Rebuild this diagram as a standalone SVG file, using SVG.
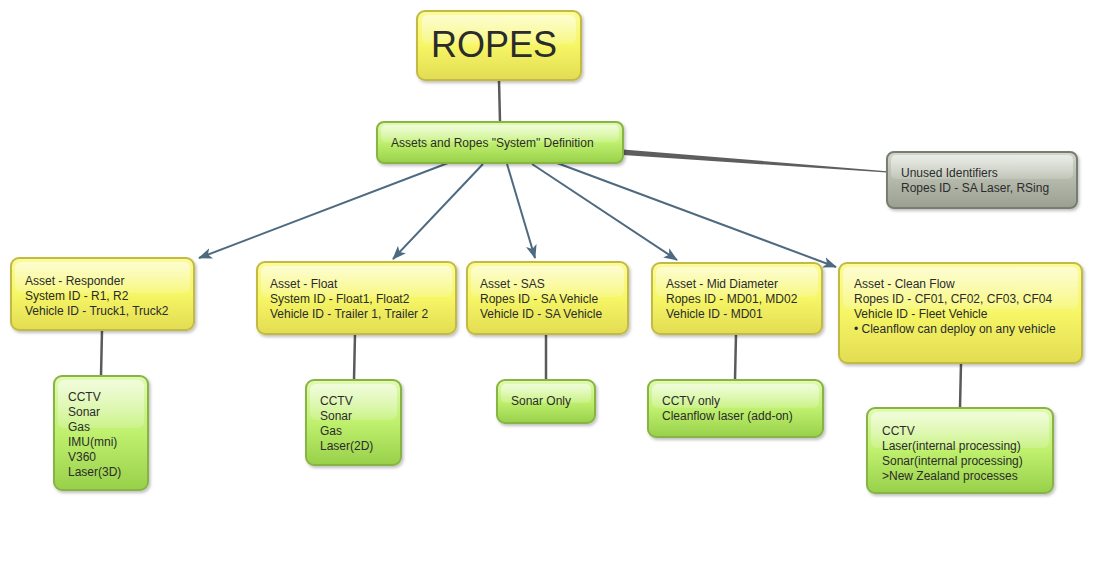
<svg xmlns="http://www.w3.org/2000/svg" width="1093" height="561" viewBox="0 0 1093 561">
<defs>
<linearGradient id="gy" x1="0" y1="0" x2="0" y2="1">
<stop offset="0" stop-color="#fbfb9c"/>
<stop offset="0.5" stop-color="#f6f666"/>
<stop offset="1" stop-color="#e2dc52"/>
</linearGradient>
<linearGradient id="gg" x1="0" y1="0" x2="0" y2="1">
<stop offset="0" stop-color="#e2fab4"/>
<stop offset="0.5" stop-color="#bff06e"/>
<stop offset="1" stop-color="#98d04a"/>
</linearGradient>
<linearGradient id="ga" x1="0" y1="0" x2="0" y2="1">
<stop offset="0" stop-color="#d4d8cc"/>
<stop offset="0.5" stop-color="#b4b9ab"/>
<stop offset="1" stop-color="#9a9f91"/>
</linearGradient>
<linearGradient id="gl" x1="0" y1="0" x2="0" y2="1">
<stop offset="0" stop-color="#ffffff" stop-opacity="0.55"/>
<stop offset="1" stop-color="#ffffff" stop-opacity="0.15"/>
</linearGradient>
<filter id="sh" x="-10%" y="-10%" width="130%" height="140%">
<feDropShadow dx="1.5" dy="2" stdDeviation="1.8" flood-color="#000" flood-opacity="0.25"/>
</filter>
<marker id="ar" markerUnits="userSpaceOnUse" markerWidth="16" markerHeight="12" refX="13" refY="6" orient="auto">
<path d="M0,0.5 L14,6 L0,11.5 L3.5,6 z" fill="#4e6a80"/>
</marker>
<style>
.y{fill:url(#gy);stroke:#c2ba42;stroke-width:2;filter:url(#sh)}
.g{fill:url(#gg);stroke:#88b444;stroke-width:2;filter:url(#sh)}
.a{fill:url(#ga);stroke:#777d71;stroke-width:2;filter:url(#sh)}
.hl{fill:url(#gl)}
.t{font-family:"Liberation Sans",Arial,sans-serif;font-size:12px;fill:#2b2b2b}
.big{font-family:"Liberation Sans",Arial,sans-serif;font-size:36px;fill:#2b2b2b}
.arw{stroke:#4e6a80;stroke-width:2;fill:none;marker-end:url(#ar)}
.cn{stroke:#5a5a5a;stroke-width:2.5;fill:none}
</style>
</defs>

<g id="connectors">
<line class="cn" x1="499" y1="80" x2="500" y2="122"/>
<polygon points="623,149.5 623,155 887,172.6 887,171.2" fill="#5e5e5e"/>
<line class="arw" x1="448" y1="163" x2="199" y2="258"/>
<line class="arw" x1="483" y1="164" x2="393" y2="259"/>
<line class="arw" x1="507" y1="164" x2="535" y2="258"/>
<line class="arw" x1="532" y1="164" x2="677" y2="260"/>
<line class="arw" x1="557" y1="163" x2="836" y2="267"/>
<line class="cn" x1="102" y1="330" x2="101" y2="376"/>
<line class="cn" x1="355" y1="334" x2="354" y2="380"/>
<line class="cn" x1="546" y1="334" x2="546" y2="380"/>
<line class="cn" x1="736" y1="334" x2="735" y2="380"/>
<line class="cn" x1="961" y1="363" x2="960" y2="408"/>
</g>

<g id="ropes">
<rect class="y" x="417" y="11" width="164" height="69" rx="8"/>
<rect class="hl" x="422" y="15" width="154" height="29" rx="6"/>
<text class="big" x="431" y="57">ROPES</text>
</g>

<g id="assets">
<rect class="g" x="377" y="122" width="246" height="41" rx="7"/>
<rect class="hl" x="381" y="125" width="238" height="17" rx="5"/>
<text class="t" x="391" y="147">Assets and Ropes "System" Definition</text>
</g>

<g id="unused">
<rect class="a" x="887" y="152" width="190" height="56" rx="7"/>
<rect class="hl" x="891" y="155" width="182" height="24" rx="5"/>
<text class="t" x="901" y="177">Unused Identifiers</text>
<text class="t" x="901" y="192">Ropes ID - SA Laser, RSing</text>
</g>

<g id="responder">
<rect class="y" x="11" y="258" width="183" height="72" rx="8"/>
<rect class="hl" x="15" y="262" width="175" height="31" rx="6"/>
<text class="t" x="25" y="285">Asset - Responder</text>
<text class="t" x="25" y="300">System ID - R1, R2</text>
<text class="t" x="25" y="315">Vehicle ID - Truck1, Truck2</text>
</g>

<g id="float">
<rect class="y" x="257" y="262" width="199" height="72" rx="8"/>
<rect class="hl" x="261" y="266" width="191" height="31" rx="6"/>
<text class="t" x="270" y="288">Asset - Float</text>
<text class="t" x="270" y="303">System ID - Float1, Float2</text>
<text class="t" x="270" y="318">Vehicle ID - Trailer 1, Trailer 2</text>
</g>

<g id="sas">
<rect class="y" x="467" y="262" width="161" height="72" rx="8"/>
<rect class="hl" x="471" y="266" width="153" height="31" rx="6"/>
<text class="t" x="480" y="288">Asset - SAS</text>
<text class="t" x="480" y="303">Ropes ID - SA Vehicle</text>
<text class="t" x="480" y="318">Vehicle ID - SA Vehicle</text>
</g>

<g id="middiameter">
<rect class="y" x="652" y="263" width="170" height="71" rx="8"/>
<rect class="hl" x="656" y="267" width="162" height="30" rx="6"/>
<text class="t" x="666" y="288">Asset - Mid Diameter</text>
<text class="t" x="666" y="303">Ropes ID - MD01, MD02</text>
<text class="t" x="666" y="318">Vehicle ID - MD01</text>
</g>

<g id="cleanflow">
<rect class="y" x="839" y="263" width="243" height="100" rx="8"/>
<rect class="hl" x="843" y="267" width="235" height="42" rx="6"/>
<text class="t" x="854" y="288">Asset - Clean Flow</text>
<text class="t" x="854" y="303">Ropes ID - CF01, CF02, CF03, CF04</text>
<text class="t" x="854" y="318">Vehicle ID - Fleet Vehicle</text>
<text class="t" x="854" y="333">• Cleanflow can deploy on any vehicle</text>
</g>

<g id="responder-sensors">
<rect class="g" x="54" y="376" width="94" height="114" rx="8"/>
<rect class="hl" x="58" y="380" width="86" height="48" rx="6"/>
<text class="t" x="68" y="401">CCTV</text>
<text class="t" x="68" y="416">Sonar</text>
<text class="t" x="68" y="431">Gas</text>
<text class="t" x="68" y="446">IMU(mni)</text>
<text class="t" x="68" y="461">V360</text>
<text class="t" x="68" y="476">Laser(3D)</text>
</g>

<g id="float-sensors">
<rect class="g" x="306" y="380" width="95" height="85" rx="8"/>
<rect class="hl" x="310" y="384" width="87" height="36" rx="6"/>
<text class="t" x="320" y="405">CCTV</text>
<text class="t" x="320" y="420">Sonar</text>
<text class="t" x="320" y="435">Gas</text>
<text class="t" x="320" y="450">Laser(2D)</text>
</g>

<g id="sas-sensors">
<rect class="g" x="497" y="380" width="98" height="43" rx="8"/>
<rect class="hl" x="501" y="384" width="90" height="19" rx="5"/>
<text class="t" x="511" y="405">Sonar Only</text>
</g>

<g id="md-sensors">
<rect class="g" x="648" y="380" width="175" height="57" rx="8"/>
<rect class="hl" x="652" y="384" width="167" height="24" rx="6"/>
<text class="t" x="662" y="405">CCTV only</text>
<text class="t" x="662" y="420">Cleanflow laser (add-on)</text>
</g>

<g id="cf-sensors">
<rect class="g" x="867" y="408" width="186" height="85" rx="8"/>
<rect class="hl" x="871" y="412" width="178" height="36" rx="6"/>
<text class="t" x="882" y="435">CCTV</text>
<text class="t" x="882" y="450">Laser(internal processing)</text>
<text class="t" x="882" y="465">Sonar(internal processing)</text>
<text class="t" x="882" y="480">&gt;New Zealand processes</text>
</g>
</svg>
